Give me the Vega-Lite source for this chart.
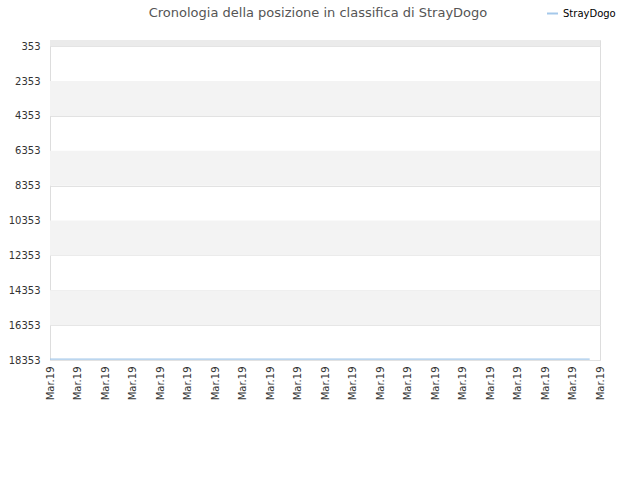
{
  "$schema": "https://vega.github.io/schema/vega-lite/v6.json",
  "autosize": "none",
  "width": 550,
  "height": 320,
  "padding": {"left": 50, "top": 40, "right": 40, "bottom": 120},
  "background": "white",
  "title": {
    "text": "Cronologia della posizione in classifica di StrayDogo",
    "font": "DejaVu Sans",
    "fontSize": 13,
    "fontWeight": "normal",
    "color": "#555555",
    "anchor": "middle",
    "offset": 0,
    "dy": 13,
    "dx": -7
  },
  "config": {
    "view": {"stroke": "#dddddd", "strokeWidth": 1},
    "font": "DejaVu Sans",
    "axis": {"labelOverlap": false, "labelFlush": false, "ticks": false, "domain": false},
    "axisY": {"labelOverlap": false, "labelBound": false}
  },
  "datasets": {
    "bands": [
      {"start": 0, "end": 353, "shade": "top"},
      {"start": 2353, "end": 4353, "shade": "band"},
      {"start": 6353, "end": 8353, "shade": "band"},
      {"start": 10353, "end": 12353, "shade": "band"},
      {"start": 14353, "end": 16353, "shade": "band"}
    ],
    "rank": [
      {"date": "2019-03-01T00:00", "position": 18300, "player": "StrayDogo"},
      {"date": "2019-03-02T00:00", "position": 18300, "player": "StrayDogo"},
      {"date": "2019-03-03T00:00", "position": 18300, "player": "StrayDogo"},
      {"date": "2019-03-04T00:00", "position": 18300, "player": "StrayDogo"},
      {"date": "2019-03-05T00:00", "position": 18300, "player": "StrayDogo"},
      {"date": "2019-03-06T00:00", "position": 18300, "player": "StrayDogo"},
      {"date": "2019-03-07T00:00", "position": 18300, "player": "StrayDogo"},
      {"date": "2019-03-08T00:00", "position": 18300, "player": "StrayDogo"},
      {"date": "2019-03-09T00:00", "position": 18300, "player": "StrayDogo"},
      {"date": "2019-03-10T00:00", "position": 18300, "player": "StrayDogo"},
      {"date": "2019-03-11T00:00", "position": 18300, "player": "StrayDogo"},
      {"date": "2019-03-12T00:00", "position": 18300, "player": "StrayDogo"},
      {"date": "2019-03-13T00:00", "position": 18300, "player": "StrayDogo"},
      {"date": "2019-03-14T00:00", "position": 18300, "player": "StrayDogo"},
      {"date": "2019-03-15T00:00", "position": 18300, "player": "StrayDogo"},
      {"date": "2019-03-16T00:00", "position": 18300, "player": "StrayDogo"},
      {"date": "2019-03-17T00:00", "position": 18300, "player": "StrayDogo"},
      {"date": "2019-03-18T00:00", "position": 18300, "player": "StrayDogo"},
      {"date": "2019-03-19T00:00", "position": 18300, "player": "StrayDogo"},
      {"date": "2019-03-20T00:00", "position": 18300, "player": "StrayDogo"},
      {"date": "2019-03-20T15:00", "position": 18300, "player": "StrayDogo"}
    ]
  },
  "layer": [
    {
      "data": {"name": "bands"},
      "mark": {"type": "rect", "strokeWidth": 0},
      "encoding": {
        "y": {
          "field": "start",
          "type": "quantitative",
          "scale": {"domain": [0, 18353], "reverse": true, "nice": false, "zero": false},
          "axis": {
            "title": null,
            "values": [353, 2353, 4353, 6353, 8353, 10353, 12353, 14353, 16353, 18353],
            "format": "d",
            "labelFontSize": 10,
            "labelColor": "#333333",
            "labelPadding": 10,
            "labelOverlap": false,
            "grid": true,
            "gridColor": "#e2e2e2",
            "gridWidth": 1
          }
        },
        "y2": {"field": "end"},
        "color": {
          "field": "shade",
          "type": "nominal",
          "scale": {"domain": ["top", "band"], "range": ["#ebebeb", "#f3f3f3"]},
          "legend": null
        }
      }
    },
    {
      "data": {"name": "rank"},
      "mark": {"type": "line", "strokeWidth": 1.2, "interpolate": "linear"},
      "encoding": {
        "x": {
          "field": "date",
          "type": "temporal",
          "scale": {"domain": ["2019-03-01T00:00", "2019-03-21T00:00"], "nice": false},
          "axis": {
            "title": null,
            "format": "%b.%y",
            "tickCount": {"interval": "day", "step": 1},
            "labelAngle": 270,
            "labelAlign": "right",
            "labelBaseline": "middle",
            "labelFontSize": 10,
            "labelColor": "#333333",
            "labelPadding": 6,
            "grid": false
          }
        },
        "y": {
          "field": "position",
          "type": "quantitative",
          "axis": {
            "title": null,
            "values": [353, 2353, 4353, 6353, 8353, 10353, 12353, 14353, 16353, 18353],
            "format": "d",
            "labelFontSize": 10,
            "labelColor": "#333333",
            "labelPadding": 10,
            "labelOverlap": false,
            "grid": true,
            "gridColor": "#e2e2e2",
            "gridWidth": 1
          }
        },
        "color": {
          "field": "player",
          "type": "nominal",
          "scale": {"domain": ["StrayDogo"], "range": ["#a4c8ea"]},
          "legend": {
            "title": null,
            "orient": "none",
            "legendX": 496,
            "legendY": -33,
            "symbolType": "stroke",
            "symbolStrokeWidth": 2,
            "symbolSize": 120,
            "labelFontSize": 10,
            "labelColor": "#000000",
            "labelFont": "DejaVu Sans"
          }
        }
      }
    }
  ],
  "resolve": {"scale": {"color": "independent"}}
}
